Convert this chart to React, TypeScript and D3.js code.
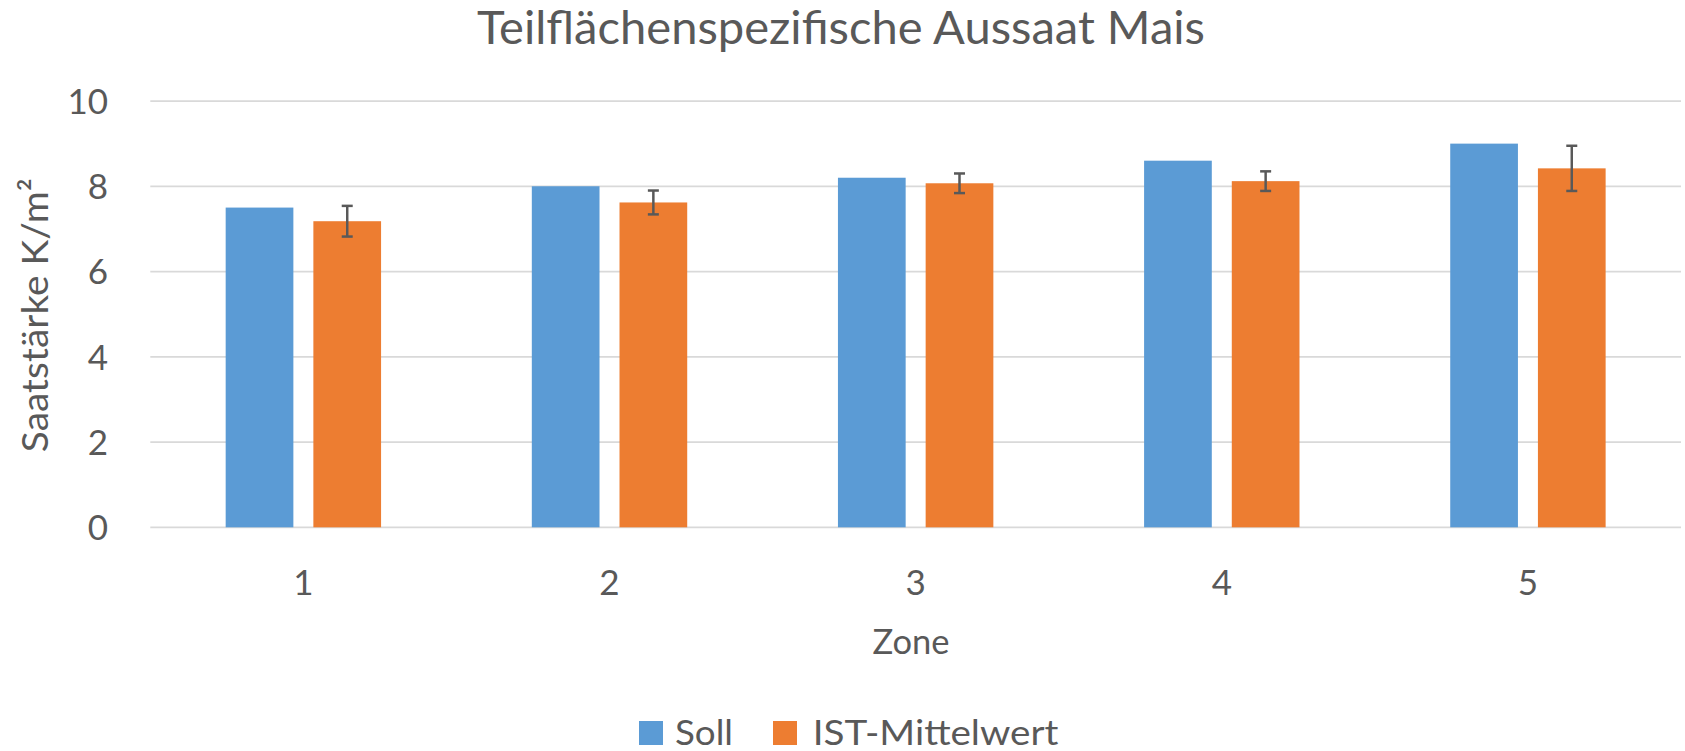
import { useEffect } from "react";
import * as d3 from "d3";

const zones = ["1", "2", "3", "4", "5"];
const series = ["Soll", "IST-Mittelwert"];
const soll = [7.5, 8.0, 8.2, 8.6, 9.0];
const istMean = [7.18, 7.62, 8.07, 8.12, 8.42];
const istErr = [0.36, 0.28, 0.23, 0.23, 0.53];
const yTicks = [0, 2, 4, 6, 8, 10];

const COLORS = ["#5B9BD5", "#ED7D31"];
const TEXT = "#595959";
const GRID = "#D9D9D9";
const FONT = "Lato, 'Open Sans', sans-serif";

const width = 1685;
const height = 751;
const plot = { left: 150.3, right: 1681, top: 101, bottom: 527.3 };

export default function App() {
  useEffect(() => {
    document.body.style.margin = "0";
  }, []);

  const x0 = d3.scaleBand<string>().domain(zones).range([plot.left, plot.right]).padding(0);
  const bw = x0.bandwidth();
  const groupW = 155.4;
  const x1 = d3
    .scaleBand<number>()
    .domain([0, 1])
    .range([bw / 2 - groupW / 2, bw / 2 + groupW / 2])
    .paddingInner(0.228)
    .paddingOuter(0);
  const y = d3.scaleLinear().domain([0, 10]).range([plot.bottom, plot.top]);

  const values = [soll, istMean];

  return (
    <svg width={width} height={height} style={{ display: "block", background: "#fff" }} fontFamily={FONT}>
      {/* title */}
      <text x={841} y={44.3} textAnchor="middle" fontSize={46} fill={TEXT} textLength={728} lengthAdjust="spacingAndGlyphs">
        Teilflächenspezifische Aussaat Mais
      </text>

      {/* gridlines */}
      {yTicks.map((t) => (
        <line key={t} x1={plot.left} x2={plot.right} y1={y(t)} y2={y(t)} stroke={GRID} strokeWidth={1.75} />
      ))}

      {/* y tick labels */}
      {yTicks.map((t) => (
        <text key={"l" + t} x={108} y={y(t) + 12.8} textAnchor="end" fontSize={35} fill={TEXT}>
          {t}
        </text>
      ))}

      {/* bars */}
      {zones.map((z, i) => (
        <g key={z} transform={`translate(${x0(z)},0)`}>
          {values.map((vals, s) => (
            <rect
              key={s}
              x={x1(s)}
              y={y(vals[i])}
              width={x1.bandwidth()}
              height={y(0) - y(vals[i])}
              fill={COLORS[s]}
            />
          ))}
          {/* error bar on IST */}
          {(() => {
            const cx = (x1(1) as number) + x1.bandwidth() / 2;
            const yt = y(istMean[i] + istErr[i]);
            const yb = y(istMean[i] - istErr[i]);
            return (
              <g stroke="#595959" strokeWidth={2.5}>
                <line x1={cx} x2={cx} y1={yt} y2={yb} />
                <line x1={cx - 5.5} x2={cx + 5.5} y1={yt} y2={yt} />
                <line x1={cx - 5.5} x2={cx + 5.5} y1={yb} y2={yb} />
              </g>
            );
          })()}
          <text x={bw / 2} y={595.3} textAnchor="middle" fontSize={35} fill={TEXT}>
            {z}
          </text>
        </g>
      ))}

      {/* axis titles */}
      <text x={911} y={654.3} textAnchor="middle" fontSize={35} fill={TEXT} textLength={77} lengthAdjust="spacingAndGlyphs">
        Zone
      </text>
      <text
        transform={`translate(48.3,${(plot.top + plot.bottom) / 2 + 1}) rotate(-90)`}
        textAnchor="middle"
        fontSize={37}
        fill={TEXT}
        textLength={274}
        lengthAdjust="spacingAndGlyphs"
      >
        Saatstärke K/m²
      </text>

      {/* legend */}
      <rect x={639} y={721} width={24} height={24} fill={COLORS[0]} />
      <text x={675} y={745} fontSize={35} fill={TEXT} textLength={58} lengthAdjust="spacingAndGlyphs">
        {series[0]}
      </text>
      <rect x={773} y={721} width={24} height={24} fill={COLORS[1]} />
      <text x={812.7} y={745} fontSize={35} fill={TEXT} textLength={245.7} lengthAdjust="spacingAndGlyphs">
        {series[1]}
      </text>
    </svg>
  );
}
